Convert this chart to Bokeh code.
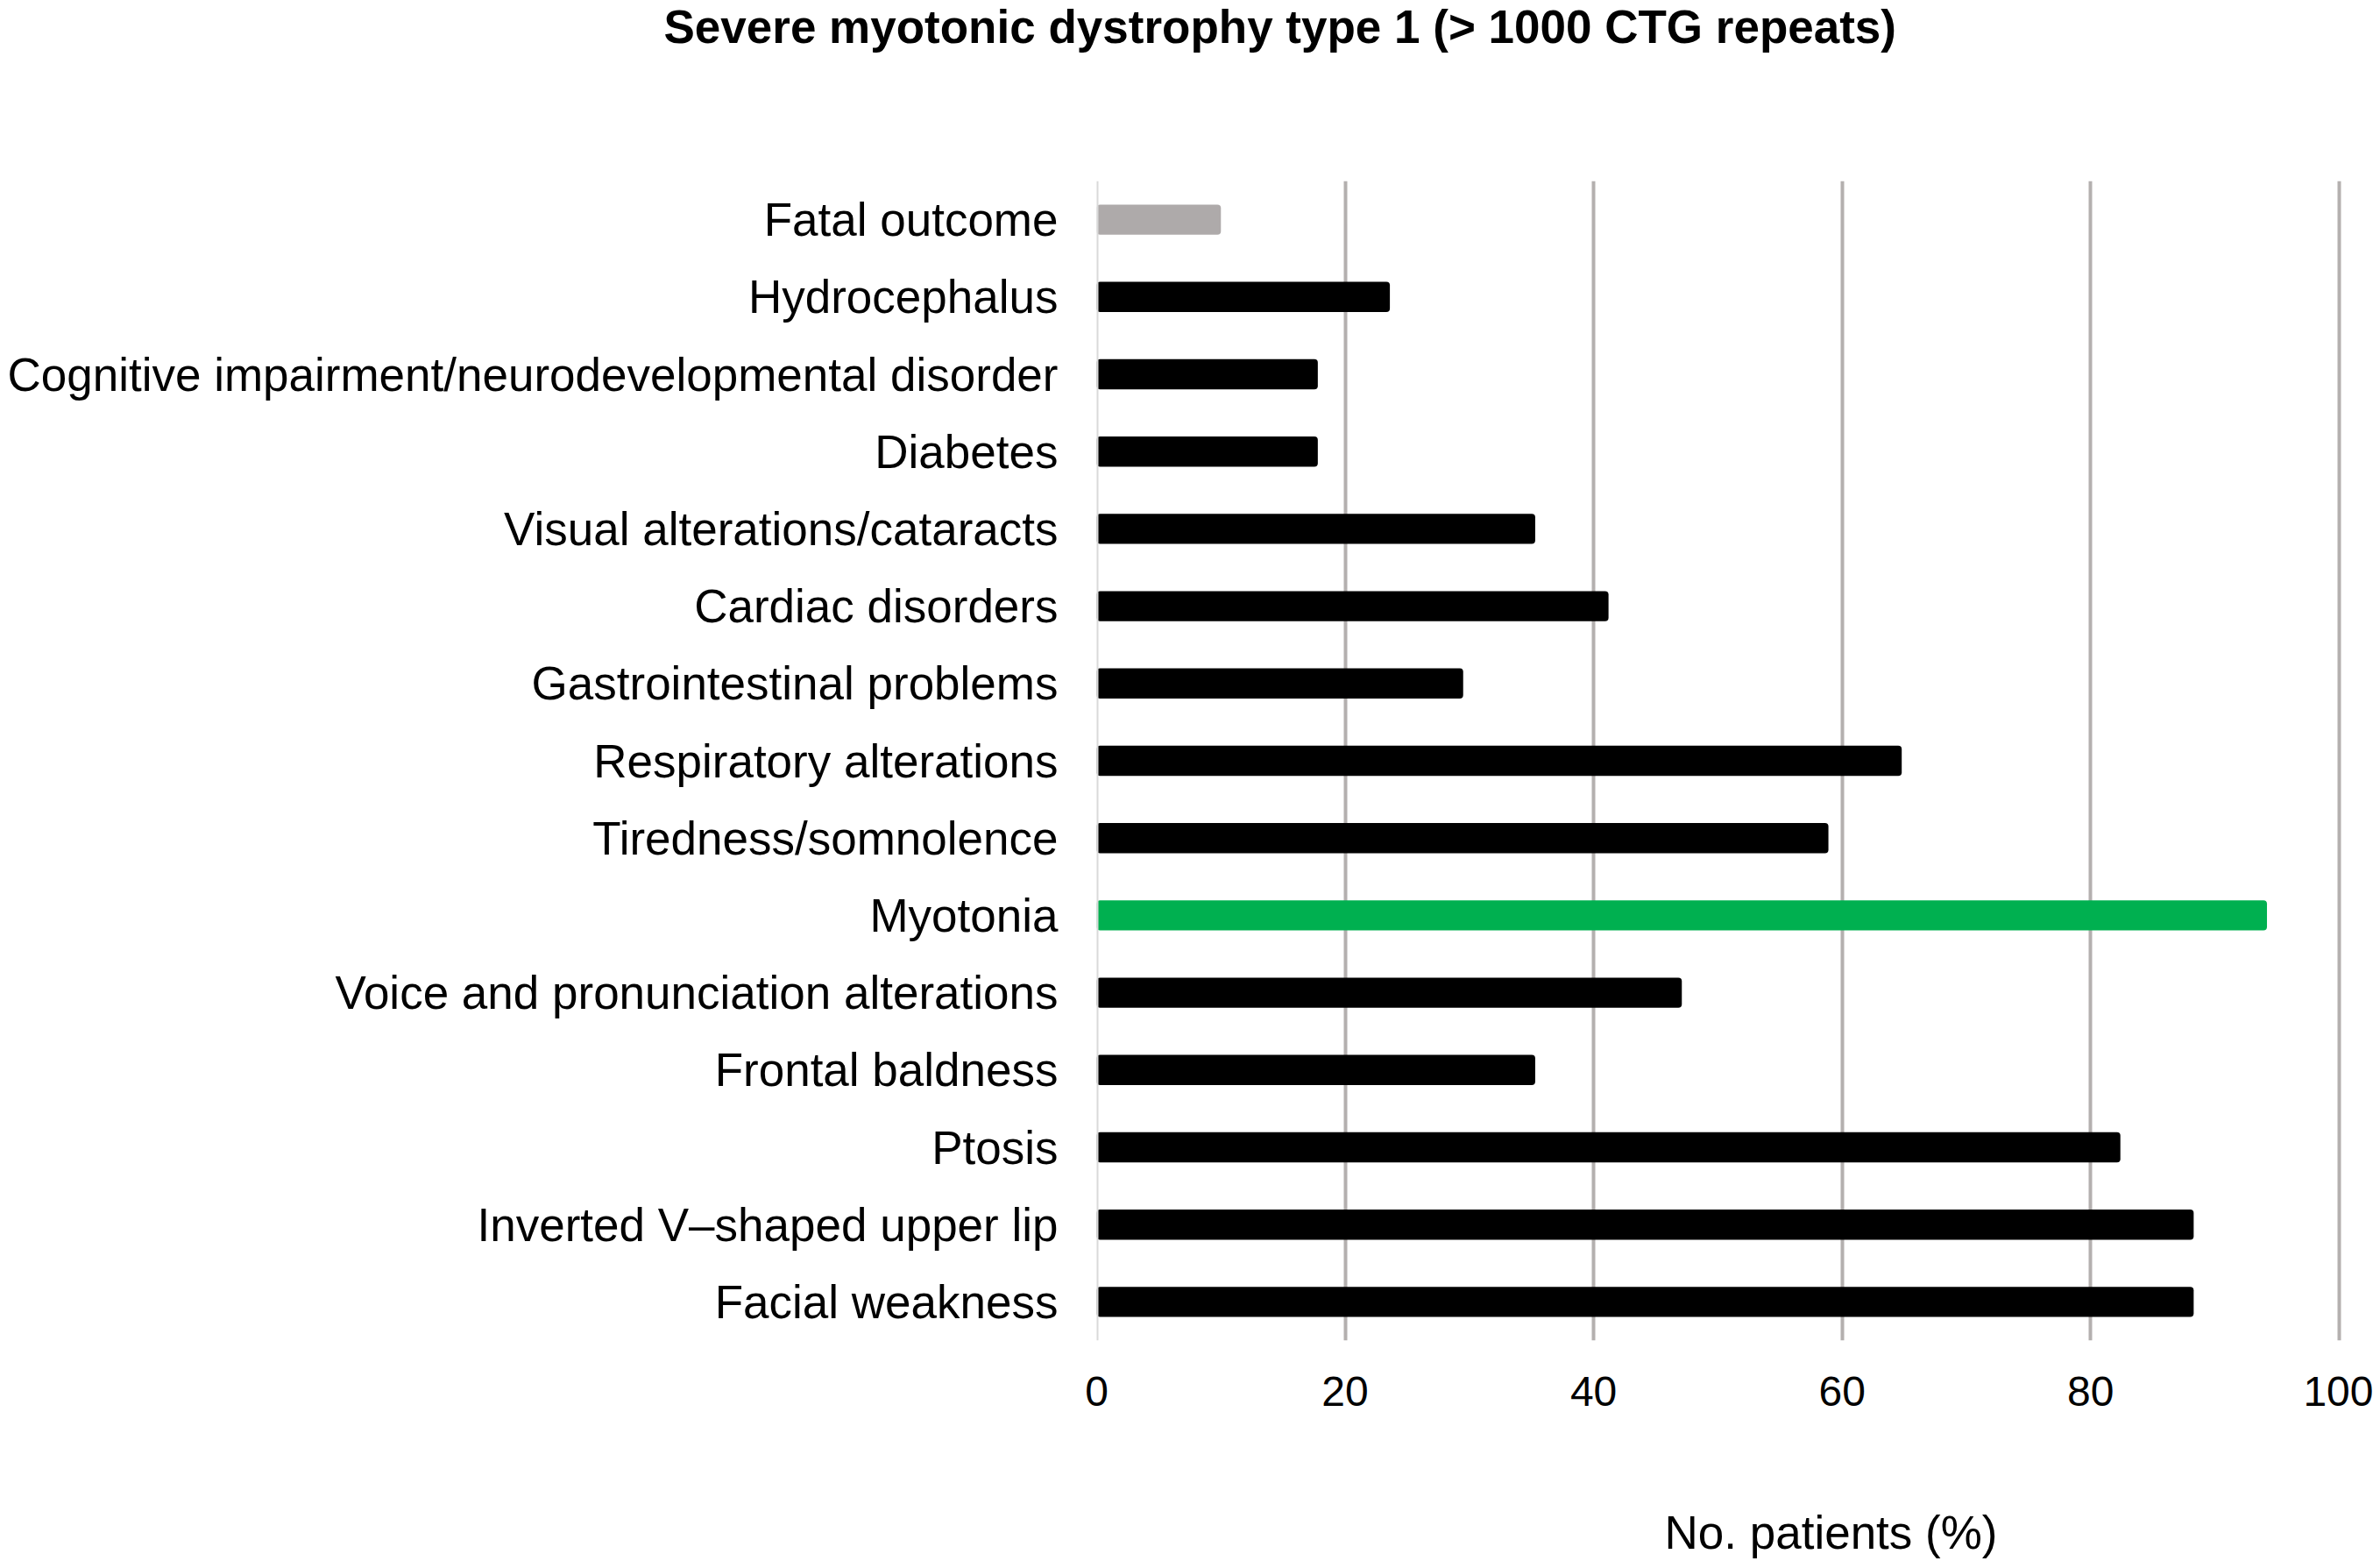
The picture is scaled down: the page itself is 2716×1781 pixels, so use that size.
from bokeh.plotting import figure
from bokeh.models import FactorRange, Range1d, Span, Title, FixedTicker
from bokeh.embed import file_html
from bokeh.resources import INLINE

# ---- data (top to bottom as shown) ----
categories = [
    "Fatal outcome",
    "Hydrocephalus",
    "Cognitive impairment/neurodevelopmental disorder",
    "Diabetes",
    "Visual alterations/cataracts",
    "Cardiac disorders",
    "Gastrointestinal problems",
    "Respiratory alterations",
    "Tiredness/somnolence",
    "Myotonia",
    "Voice and pronunciation alterations",
    "Frontal baldness",
    "Ptosis",
    "Inverted V\u2013shaped upper lip",
    "Facial weakness",
]
percent_patients = [10.0, 23.6, 17.8, 17.8, 35.3, 41.2, 29.5, 64.8, 58.9, 94.2, 47.1, 35.3, 82.4, 88.3, 88.3]
x_ticks = [0, 20, 40, 60, 80, 100]

title_text = "Severe myotonic dystrophy type 1 (> 1000 CTG repeats)"
x_title = "No. patients (%)"

# ---- styles ----
FONT = "Liberation Sans"
special_colors = {"Fatal outcome": "#AEAAAA", "Myotonia": "#00B050"}
colors = [special_colors.get(c, "#000000") for c in categories]

p = figure(
    width=2708, height=1779,
    y_range=FactorRange(factors=list(reversed(categories))),
    x_range=Range1d(0, 100.3),
    output_backend="svg", toolbar_location=None,
    min_border_left=1251, min_border_right=35,
    min_border_top=204, min_border_bottom=120,
)
p.outline_line_color = None
p.background_fill_color = "white"
p.border_fill_color = "white"

p.hbar(y=categories, right=percent_patients, left=0, height=0.39,
       fill_color=colors, line_color=None, border_radius=4)

# grid
p.ygrid.grid_line_color = None
p.xgrid.ticker = FixedTicker(ticks=x_ticks[1:])
p.xgrid.grid_line_color = "#B4B0AF"
p.xgrid.grid_line_width = 4
p.add_layout(Span(location=0, dimension="height", line_color="#D9D9D9", line_width=4))

# axes
p.xaxis.ticker = FixedTicker(ticks=x_ticks)
for ax in (p.xaxis[0], p.yaxis[0]):
    ax.axis_line_color = None
    ax.major_tick_line_color = None
    ax.minor_tick_line_color = None
    ax.major_tick_out = 0
    ax.major_tick_in = 0
    ax.major_label_text_font = FONT
    ax.major_label_text_color = "#000000"
p.xaxis.major_label_text_font_size = "48px"
p.xaxis.major_label_standoff = 41
p.yaxis.major_label_text_font_size = "53px"
p.yaxis.major_label_standoff = 44

# spacers (added first so they sit next to the frame), then the real titles outside them
p.add_layout(Title(text=" ", text_font_size="2px", standoff=141), "above")
p.title.text = title_text
p.title.text_font = FONT
p.title.text_font_size = "53px"
p.title.text_font_style = "bold"
p.title.text_color = "#000000"
p.title.align = "left"
p.title.offset = -494
p.title.standoff = 0
p.title.vertical_align = "top"

p.add_layout(Title(text=" ", text_font_size="2px", standoff=108), "below")
p.add_layout(Title(text=x_title, text_font=FONT, text_font_size="53px",
                   text_font_style="normal", text_color="#000000",
                   align="left", offset=648, standoff=0, vertical_align="top"), "below")

open("out.html", "w").write(file_html(p, INLINE))
